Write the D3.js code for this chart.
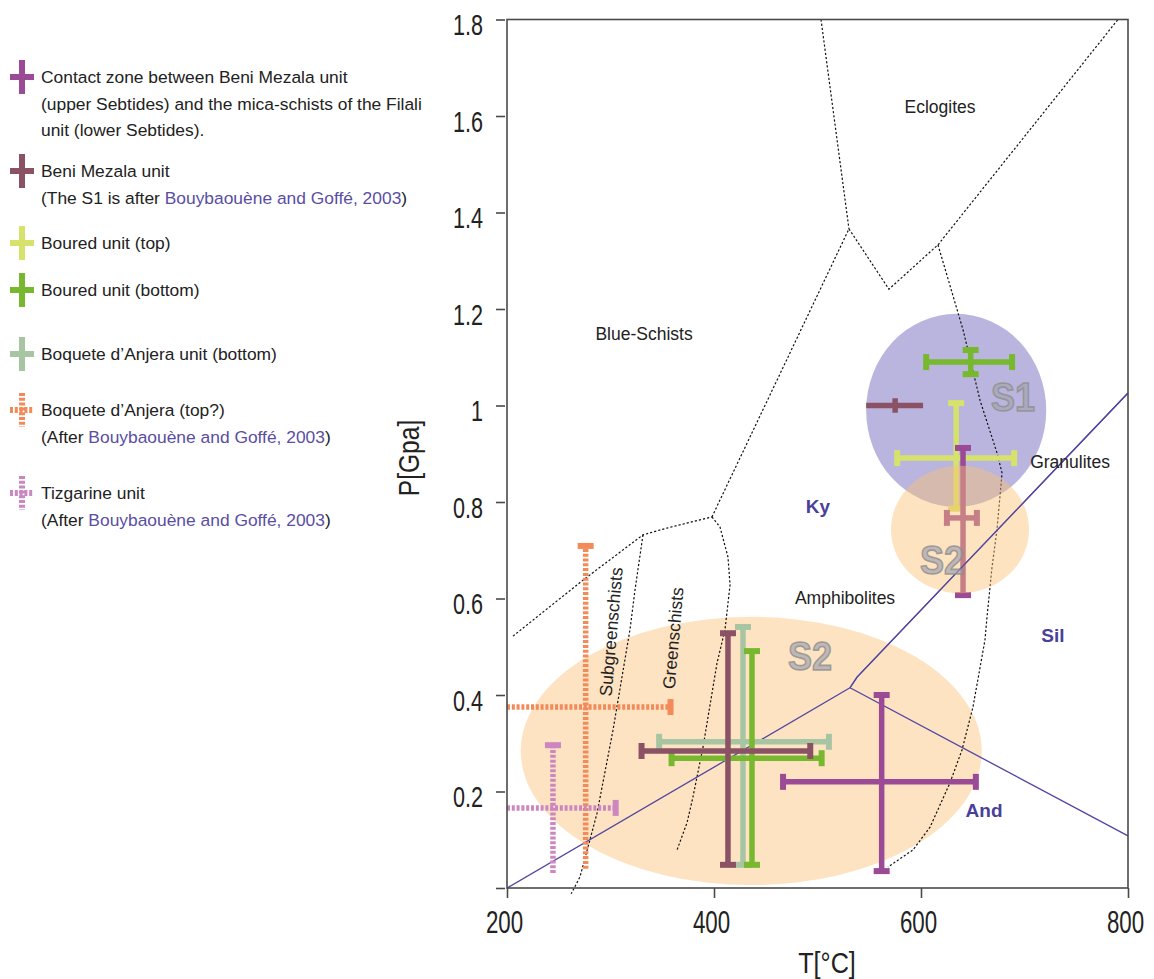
<!DOCTYPE html>
<html>
<head>
<meta charset="utf-8">
<script src="https://cdn.jsdelivr.net/npm/d3@7"></script>
<style>
  body { margin: 0; background: #fff; }
  svg text { font-family: "Liberation Sans", Arial, sans-serif; }
</style>
</head>
<body>
<svg id="chart" width="1154" height="979"></svg>
<script>
// ---- data ----
var unitNames = ["Contact zone", "Beni Mezala", "Boured top", "Boured bottom", "Boquete bottom", "Boquete top", "Tizgarine"];
var unitColors = ["#9b4a96", "#8a5264", "#d6e26c", "#77b82e", "#a8c5a3", "#f28a5a", "#cc86c0"];
var unitDotted = [false, false, false, false, false, true, true];

// P-T estimates, one cross per entry
var barUnit = [0, 0, 1, 1, 2, 3, 3, 4, 5, 6];
var barT    = [562, 640.6, 575, 413.5, 634, 648, 436.7, 428, 276, 244.4];
var barTmin = [466.7, 625, 547, 330, 577, 605, 359, 347, 200, 200];
var barTmax = [653, 654, 602, 493, 690, 688, 504, 511, 358, 305];
var barP    = [0.22, 0.767, 1.0, 0.284, 0.891, 1.09, 0.269, 0.303, 0.375, 0.166];
var barPmin = [0.035, 0.607, 0.985, 0.048, 0.786, 1.065, 0.048, 0.048, 0.04, 0.031];
var barPmax = [0.40, 0.912, 1.015, 0.528, 1.005, 1.115, 0.491, 0.541, 0.709, 0.296];
var barCaps = ["tblr", "tblr", "", "tblr", "tblr", "tblr", "tblr", "tblr", "tr", "tr"];

// S1 / S2 fields: centre T, P and half widths
var fieldNames = ["S2", "S1", "S2"];
var fieldT  = [436, 634, 637.7];
var fieldP  = [0.284, 0.99, 0.743];
var fieldRT = [222.7, 87, 66.7];
var fieldRP = [0.278, 0.2, 0.132];
var fieldLabelT = [492.8, 688.9, 620.3];
var fieldLabelP = [0.481, 1.018, 0.68];

// metamorphic facies boundaries [T, P]
var blueGreen = [[205.8, 0.522], [273.4, 0.638], [331.4, 0.732], [354.6, 0.746], [398, 0.769]];
var subGreen = [[331.4, 0.732], [323.7, 0.618], [318.8, 0.535], [302.4, 0.327], [287, 0.155], [270.5, 0.023], [262, -0.012]];
var greenAmph = [[398, 0.769], [405.8, 0.748], [413.5, 0.686], [415.5, 0.628], [410.6, 0.535], [402.9, 0.466], [389.4, 0.292], [379.7, 0.189], [373.9, 0.135], [364.3, 0.079]];
var blueAmph = [[398, 0.769], [530.4, 1.366]];
var blueEclog = [[503.4, 1.8], [530.4, 1.366]];
var eclogAmph = [[530.4, 1.366], [569, 1.241], [616.4, 1.333], [790.3, 1.8]];
var amphGran = [[616.4, 1.333], [640.6, 1.157], [657, 1.011], [673.4, 0.902], [678.3, 0.86], [673.4, 0.742], [668.6, 0.665], [663.8, 0.562], [661.8, 0.514], [650.2, 0.375], [639.6, 0.286], [628, 0.218], [608.7, 0.126], [592.3, 0.079], [568.1, 0.0435]];

// Al2SiO5 triple point lines
var kyAnd = [[200, 0], [531.4, 0.415]];
var kySil = [[531.4, 0.415], [538.2, 0.437], [800, 1.026]];
var andSil = [[531.4, 0.415], [800, 0.108]];

var faciesNames = ["Eclogites", "Blue-Schists", "Granulites", "Amphibolites"];
var faciesT = [618.4, 332.4, 744, 526.6];
var faciesP = [1.619, 1.148, 0.883, 0.601];
var rotNames = ["Subgreenschists", "Greenschists"];
var rotT = [300.5, 360.4];
var rotP = [0.531, 0.518];
var mineralNames = ["Ky", "Sil", "And"];
var mineralT = [500.5, 727.5, 660.9];
var mineralP = [0.79, 0.524, 0.16];

var xTicks = [200, 400, 600, 800];
var yTicks = [0, 0.2, 0.4, 0.6, 0.8, 1, 1.2, 1.4, 1.6, 1.8];
var yTickLabels = ["", "0.2", "0.4", "0.6", "0.8", "1", "1.2", "1.4", "1.6", "1.8"];

var legendText = [
  ["Contact zone between Beni Mezala unit", "(upper Sebtides) and the mica-schists of the Filali", "unit (lower Sebtides)."],
  ["Beni Mezala unit", "(The S1 is after |Bouybaouène and Goffé, 2003|)"],
  ["Boured unit (top)"],
  ["Boured unit (bottom)"],
  ["Boquete d\u2019Anjera unit (bottom)"],
  ["Boquete d\u2019Anjera (top?)", "(After |Bouybaouène and Goffé, 2003|)"],
  ["Tizgarine unit", "(After |Bouybaouène and Goffé, 2003|)"]
];

// ---- layout ----
var svg = d3.select("#chart");
var x = d3.scaleLinear().domain([200, 800]).range([507, 1128]);
var y = d3.scaleLinear().domain([0, 1.8]).range([888, 19.5]);
var line = d3.line().x(function (d) { return x(d[0]); }).y(function (d) { return y(d[1]); });
var linkColor = "#5a4ea2";
var textColor = "#222";

// fields under everything
var fields = svg.append("g");
fields.append("ellipse")
    .attr("cx", x(fieldT[0])).attr("cy", y(fieldP[0]))
    .attr("rx", x(fieldT[0] + fieldRT[0]) - x(fieldT[0]))
    .attr("ry", y(fieldP[0]) - y(fieldP[0] + fieldRP[0]))
    .attr("fill", "#fde3c1");
fields.append("ellipse")
    .attr("cx", x(fieldT[1])).attr("cy", y(fieldP[1]))
    .attr("rx", x(fieldT[1] + fieldRT[1]) - x(fieldT[1]))
    .attr("ry", y(fieldP[1]) - y(fieldP[1] + fieldRP[1]))
    .attr("fill", "rgb(110,100,185)").attr("fill-opacity", 0.48);

// facies boundaries
var bounds = svg.append("g").attr("fill", "none").attr("stroke", "#111")
    .attr("stroke-width", 1.2).attr("stroke-dasharray", "2.2,2");
[blueGreen, subGreen, greenAmph, blueAmph, blueEclog, eclogAmph, amphGran].forEach(function (b) {
    bounds.append("path").attr("d", line(b));
});

// Al2SiO5 lines
var als = svg.append("g").attr("fill", "none").attr("stroke", "#4f46a3").attr("stroke-width", 1.3);
[kyAnd, kySil, andSil].forEach(function (b) { als.append("path").attr("d", line(b)); });

// crosses
function drawCross(g, i) {
    var c = unitColors[barUnit[i]];
    var dash = unitDotted[barUnit[i]] ? "3,1.8" : null;
    var capH = 8, sw = 5.5;
    g.append("line")
        .attr("x1", x(barTmin[i])).attr("x2", x(barTmax[i]))
        .attr("y1", y(barP[i])).attr("y2", y(barP[i]))
        .attr("stroke", c).attr("stroke-width", sw).attr("stroke-dasharray", dash);
    g.append("line")
        .attr("x1", x(barT[i])).attr("x2", x(barT[i]))
        .attr("y1", y(barPmin[i])).attr("y2", y(barPmax[i]))
        .attr("stroke", c).attr("stroke-width", sw).attr("stroke-dasharray", dash);
    var caps = barCaps[i];
    if (caps.indexOf("t") >= 0) g.append("line").attr("x1", x(barT[i]) - capH).attr("x2", x(barT[i]) + capH)
        .attr("y1", y(barPmax[i])).attr("y2", y(barPmax[i])).attr("stroke", c).attr("stroke-width", 6);
    if (caps.indexOf("b") >= 0) g.append("line").attr("x1", x(barT[i]) - capH).attr("x2", x(barT[i]) + capH)
        .attr("y1", y(barPmin[i])).attr("y2", y(barPmin[i])).attr("stroke", c).attr("stroke-width", 6);
    if (caps.indexOf("l") >= 0) g.append("line").attr("x1", x(barTmin[i])).attr("x2", x(barTmin[i]))
        .attr("y1", y(barP[i]) - capH).attr("y2", y(barP[i]) + capH).attr("stroke", c).attr("stroke-width", 6);
    if (caps.indexOf("r") >= 0) g.append("line").attr("x1", x(barTmax[i])).attr("x2", x(barTmax[i]))
        .attr("y1", y(barP[i]) - capH).attr("y2", y(barP[i]) + capH).attr("stroke", c).attr("stroke-width", 6);
}
var bars = svg.append("g");
[7, 6, 3, 0, 4, 5, 2, 1, 8, 9].forEach(function (i) { drawCross(bars, i); });

// upper S2 field sits on top, translucent
svg.append("ellipse")
    .attr("cx", x(fieldT[2])).attr("cy", y(fieldP[2]))
    .attr("rx", x(fieldT[2] + fieldRT[2]) - x(fieldT[2]))
    .attr("ry", y(fieldP[2]) - y(fieldP[2] + fieldRP[2]))
    .attr("fill", "rgb(250,193,115)").attr("fill-opacity", 0.45);
svg.append("path").attr("d", line(kySil)).attr("fill", "none").attr("stroke", "#4f46a3").attr("stroke-width", 1.3);

// S labels
fieldNames.forEach(function (n, i) {
    svg.append("text").text(n)
        .attr("transform", "translate(" + x(fieldLabelT[i]) + "," + y(fieldLabelP[i]) + ") scale(0.9,1)")
        .attr("dy", "0.36em").attr("text-anchor", "middle")
        .attr("font-size", 40).attr("font-weight", "bold")
        .attr("fill", "#a4a4b0").attr("fill-opacity", 0.7)
        .attr("stroke", "#8e8e8e").attr("stroke-width", 1.6).attr("stroke-opacity", 0.8);
});

// facies labels
faciesNames.forEach(function (n, i) {
    svg.append("text").text(n)
        .attr("x", x(faciesT[i])).attr("y", y(faciesP[i]))
        .attr("dy", "0.35em").attr("text-anchor", "middle")
        .attr("font-size", 17.5).attr("fill", textColor);
});
rotNames.forEach(function (n, i) {
    svg.append("text").text(n)
        .attr("transform", "translate(" + x(rotT[i]) + "," + y(rotP[i]) + ") rotate(-85)")
        .attr("dy", "0.35em").attr("text-anchor", "middle")
        .attr("font-size", 17.5).attr("fill", textColor);
});
mineralNames.forEach(function (n, i) {
    svg.append("text").text(n)
        .attr("x", x(mineralT[i])).attr("y", y(mineralP[i]))
        .attr("dy", "0.35em").attr("text-anchor", "middle")
        .attr("font-size", 19).attr("font-weight", "bold").attr("fill", "#4a3f9a");
});

// frame
var frameColor = "#4a4a4a";
svg.append("rect")
    .attr("x", x(200)).attr("y", y(1.8))
    .attr("width", x(800) - x(200)).attr("height", y(0) - y(1.8))
    .attr("fill", "none").attr("stroke", frameColor).attr("stroke-width", 1.6);

// axes (condensed look: squeeze the glyphs horizontally)
var yAxis = d3.axisLeft(y).tickValues(yTicks).tickSize(9).tickSizeOuter(0)
    .tickFormat(function (d, i) { return yTickLabels[i]; });
var gy = svg.append("g").attr("transform", "translate(" + (x(200) - 2) + ",0)").call(yAxis);
gy.select(".domain").remove();
gy.selectAll(".tick line").attr("stroke", frameColor).attr("stroke-width", 1.6);
gy.selectAll(".tick text").attr("x", null)
    .attr("transform", "translate(-22,0) scale(0.72,1)")
    .attr("font-size", 30).attr("fill", textColor).attr("dy", "0.5em");

var xAxis = d3.axisBottom(x).tickValues(xTicks).tickSize(10).tickSizeOuter(0).tickPadding(13)
    .tickFormat(d3.format("d"));
var gx = svg.append("g").attr("transform", "translate(0," + y(0) + ")").call(xAxis);
gx.select(".domain").remove();
gx.selectAll(".tick line").attr("stroke", frameColor).attr("stroke-width", 1.6);
gx.selectAll(".tick text").attr("transform", "translate(-3,0) scale(0.72,1)")
    .attr("font-size", 31).attr("fill", textColor);

svg.append("text").text("P[Gpa]")
    .attr("transform", "translate(408,458) rotate(-90) scale(0.82,1)")
    .attr("dy", "0.35em").attr("text-anchor", "middle")
    .attr("font-size", 30).attr("fill", textColor);
svg.append("text").text("T[°C]")
    .attr("transform", "translate(827,962) scale(0.84,1)")
    .attr("dy", "0.35em").attr("text-anchor", "middle")
    .attr("font-size", 30).attr("fill", textColor);

// legend
var legendY = [77, 171, 243, 290, 354, 410, 493];
var legend = svg.append("g");
legendText.forEach(function (lines, u) {
    var cy = legendY[u], cx = 22;
    var c = unitColors[u];
    var dash = unitDotted[u] ? "3,1.8" : null;
    legend.append("line").attr("x1", cx).attr("x2", cx).attr("y1", cy - 17).attr("y2", cy + 17)
        .attr("stroke", c).attr("stroke-width", 6).attr("stroke-dasharray", dash);
    legend.append("line").attr("x1", cx - 12).attr("x2", cx + 12).attr("y1", cy).attr("y2", cy)
        .attr("stroke", c).attr("stroke-width", 6).attr("stroke-dasharray", dash);
    lines.forEach(function (ln, k) {
        var t = legend.append("text").attr("x", 41).attr("y", cy + k * 26.5)
            .attr("dy", "0.35em").attr("font-size", 17.4).attr("fill", textColor);
        ln.split("|").forEach(function (part, j) {
            t.append("tspan").text(part).attr("fill", j % 2 ? linkColor : textColor);
        });
    });
});
</script>
</body>
</html>
